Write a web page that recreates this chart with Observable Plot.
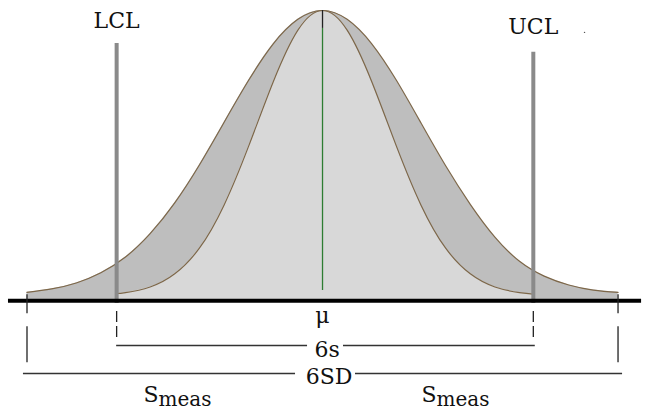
<!DOCTYPE html>
<html><head><meta charset="utf-8">
<script src="https://cdn.jsdelivr.net/npm/d3@7"></script>
<script src="https://cdn.jsdelivr.net/npm/@observablehq/plot@0.6"></script>
<style>html,body{margin:0;padding:0;background:#fff;overflow:hidden} #chart svg{display:block}</style>
</head><body><div id="chart"></div>
<script>
// ---- Data (x in units of total measurement SD, mean = 0; heights relative to peak) ----
const wideX = [-3, -2.75, -2.5, -2.25, -2, -1.75, -1.5, -1.25, -1, -0.75, -0.5, -0.25, 0, 0.25, 0.5, 0.75, 1, 1.25, 1.5, 1.75, 2, 2.25, 2.5, 2.75, 3];
const wideH = [0.011, 0.023, 0.044, 0.08, 0.135, 0.217, 0.325, 0.458, 0.607, 0.755, 0.883, 0.969, 1, 0.969, 0.883, 0.755, 0.605, 0.455, 0.32, 0.205, 0.12, 0.068, 0.037, 0.019, 0.011];
const narrowX = [-2.09, -2, -1.75, -1.5, -1.25, -1, -0.75, -0.5, -0.25, 0, 0.25, 0.5, 0.75, 1, 1.25, 1.5, 1.75, 2, 2.14];
const narrowH = [0.007, 0.01, 0.03, 0.076, 0.166, 0.317, 0.524, 0.75, 0.931, 1, 0.931, 0.75, 0.524, 0.317, 0.166, 0.076, 0.03, 0.01, 0.005];
const mu = 0;
const limitNames = ["LCL", "UCL"];
const limitX = [-2.09, 2.14];      // LCL, UCL (= mean ± 3s)
const spreadX = [-3, 3];           // mean ± 3SD
const centerLabel = "μ";
const narrowLabel = "6s";
const wideLabel = "6SD";
const measMain = "S";
const measSub = "meas";

// ---- Layout / style ----
const wide = wideX.map((x, i) => ({x, h: wideH[i]}));
const narrow = narrowX.map((x, i) => ({x, h: narrowH[i]}));
const base = -0.0186;
const font = "DejaVu Serif";
const ink = "#111";
const curveStroke = "#7d6749";
const dimStroke = "#333";
const limitTop = [0.884, 0.853];
const limitLabelY = [0.937, 0.916];
const yMu = -0.098, y6s = -0.1754, y6sText = -0.2175, y6SD = -0.2737, y6SDText = -0.309;
const ySmeas = -0.372, ySub = -0.389;
const smeasLeft = [-1.817, 1.005];
const subOffset = 0.152;

const chart = Plot.plot({
  width: 646, height: 414, margin: 0,
  x: {domain: [-3.269, 3.289], axis: null},
  y: {domain: [-0.4175, 1.035], axis: null},
  style: {background: "#fff", overflow: "visible"},
  marks: [
    Plot.areaY(wide, {x: "x", y1: base, y2: "h", fill: "#bebebe", curve: "natural"}),
    Plot.areaY(narrow, {x: "x", y1: base, y2: "h", fill: "#d8d8d8", curve: "natural"}),
    Plot.line(wide, {x: "x", y: "h", stroke: curveStroke, strokeWidth: 1.2, curve: "natural"}),
    Plot.line(narrow, {x: "x", y: "h", stroke: curveStroke, strokeWidth: 1.2, curve: "natural"}),
    // mean line
    Plot.ruleX([mu], {y1: 0.0175, y2: 0.937, stroke: "#2e7d32", strokeWidth: 1.3}),
    Plot.ruleX([mu], {y1: 0.937, y2: 1, stroke: "#222", strokeWidth: 1.3}),
    // control limits
    Plot.ruleX(limitX, {y1: -0.028, y2: (d, i) => limitTop[i], stroke: "#8a8a8a", strokeWidth: 4}),
    Plot.text(limitNames, {x: (d, i) => limitX[i], y: (d, i) => limitLabelY[i], text: d => d,
      fontFamily: font, fontSize: 22, fill: ink, lineAnchor: "bottom", textAnchor: "middle"}),
    Plot.dot([2.66], {x: d => d, y: 0.923, r: 0.7, fill: "#555"}),
    // baseline
    Plot.ruleY([base], {x1: -3.188, x2: 3.239, stroke: "#000", strokeWidth: 4}),
    // dimension ticks
    Plot.ruleX(spreadX, {y1: 0.003, y2: -0.26, stroke: "#222", strokeWidth: 1.3, strokeDasharray: "19,13,36,12,2"}),
    Plot.ruleX(limitX, {y1: -0.056, y2: -0.151, stroke: "#222", strokeWidth: 1.3, strokeDasharray: "11,4"}),
    // 6s dimension line
    Plot.ruleY([y6s], {x1: limitX[0], x2: -0.152, stroke: dimStroke, strokeWidth: 1.4}),
    Plot.ruleY([y6s], {x1: 0.213, x2: limitX[1] + 0.02, stroke: dimStroke, strokeWidth: 1.4}),
    // 6SD dimension line
    Plot.ruleY([y6SD], {x1: spreadX[0] - 0.036, x2: -0.274, stroke: dimStroke, strokeWidth: 1.4}),
    Plot.ruleY([y6SD], {x1: 0.335, x2: spreadX[1] + 0.046, stroke: dimStroke, strokeWidth: 1.4}),
    // labels
    Plot.text([centerLabel], {x: mu, y: yMu, text: d => d, fontFamily: font, fontSize: 22, fill: ink, lineAnchor: "bottom", textAnchor: "middle"}),
    Plot.text([narrowLabel], {x: 0.046, y: y6sText, text: d => d, fontFamily: font, fontSize: 22, fill: ink, lineAnchor: "bottom", textAnchor: "middle"}),
    Plot.text([wideLabel], {x: 0.066, y: y6SDText, text: d => d, fontFamily: font, fontSize: 22, fill: ink, lineAnchor: "bottom", textAnchor: "middle"}),
    Plot.text(smeasLeft, {x: d => d, y: ySmeas, text: () => measMain, fontFamily: font, fontSize: 22, fill: ink, lineAnchor: "bottom", textAnchor: "start"}),
    Plot.text(smeasLeft, {x: d => d + subOffset, y: ySub, text: () => measSub, fontFamily: font, fontSize: 20, fill: ink, lineAnchor: "bottom", textAnchor: "start"})
  ]
});
document.getElementById("chart").appendChild(chart);
</script>
</body></html>
